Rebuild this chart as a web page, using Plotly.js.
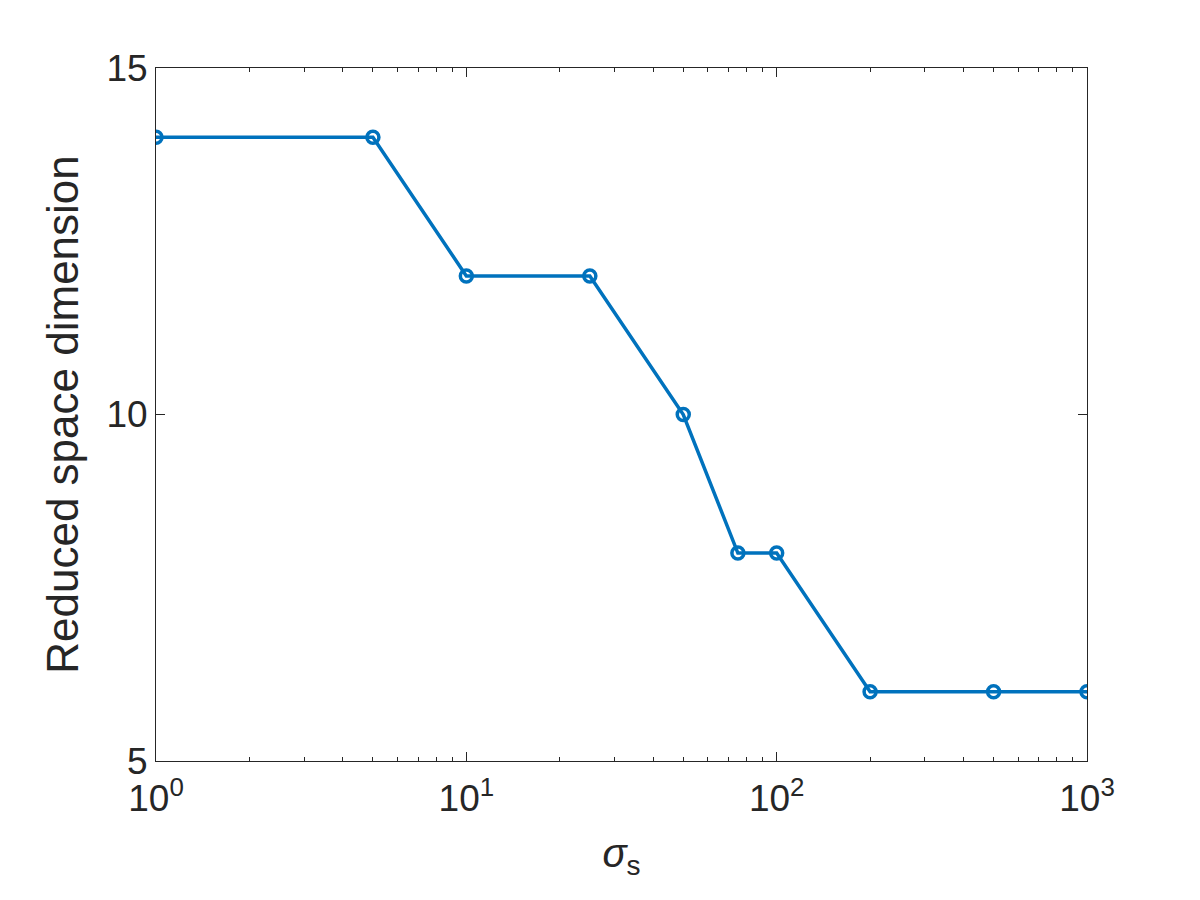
<!DOCTYPE html>
<html>
<head>
<meta charset="utf-8">
<script src="https://cdn.plot.ly/plotly-3.0.1.min.js"></script>
<style>html,body{margin:0;padding:0;background:#fff}</style>
</head>
<body>
<div id="chart" style="width:1200px;height:900px"></div>
<script>
// σ_s sweep vs reduced space dimension
const sigmaS  = [1, 5, 10, 25, 50, 75, 100, 200, 500, 1000];
const dimVals = [14, 14, 12, 12, 10, 8, 8, 6, 6, 6];

const xTickVals = [1, 10, 100, 1000];
const xTickText = ['10<sup>0</sup>', '10<sup>1</sup>', '10<sup>2</sup>', '10<sup>3</sup>'];
const yTickVals = [5, 10, 15];

// minor log ticks 2..9 in each decade
const minorVals = [];
[1, 10, 100].forEach(d => { for (let k = 2; k <= 9; k++) minorVals.push(k * d); });

const axisColor = '#262626';
const font = 'Liberation Sans, Arial, Helvetica, sans-serif';

const trace = {
  x: sigmaS,
  y: dimVals,
  type: 'scatter', mode: 'lines+markers',
  line: { color: '#0072BD', width: 3.5 },
  marker: { symbol: 'circle-open', size: 12, color: '#0072BD', line: { width: 3.5, color: '#0072BD' } },
  hoverinfo: 'x+y'
};

const layout = {
  width: 1200, height: 900,
  margin: { l: 156, r: 113, t: 68, b: 139 },
  paper_bgcolor: '#FFFFFF',
  plot_bgcolor: '#FFFFFF',
  showlegend: false,
  font: { family: font, color: axisColor },
  xaxis: {
    type: 'log',
    range: [0, 3],
    tickvals: xTickVals, ticktext: xTickText,
    tickfont: { size: 37, color: axisColor },
    ticklabelstandoff: 5,
    ticks: 'inside', ticklen: 9, tickwidth: 1, tickcolor: axisColor,
    minor: { tickmode: 'array', tickvals: minorVals, ticks: 'inside', ticklen: 4, tickwidth: 1, tickcolor: axisColor, showgrid: false },
    showline: true, linecolor: axisColor, linewidth: 1, mirror: 'ticks',
    showgrid: false, zeroline: false,
    title: { text: '<i>σ</i><sub>s</sub>', font: { size: 40, color: axisColor }, standoff: 20 }
  },
  yaxis: {
    range: [5, 15],
    tickvals: yTickVals,
    tickfont: { size: 37, color: axisColor },
    ticks: 'inside', ticklen: 9, tickwidth: 1, tickcolor: axisColor,
    showline: true, linecolor: axisColor, linewidth: 1, mirror: 'ticks',
    showgrid: false, zeroline: false,
    title: { text: 'Reduced space dimension', font: { size: 44, color: axisColor }, standoff: 14 }
  }
};

Plotly.newPlot('chart', [trace], layout, { displayModeBar: false, staticPlot: true });
</script>
</body>
</html>
